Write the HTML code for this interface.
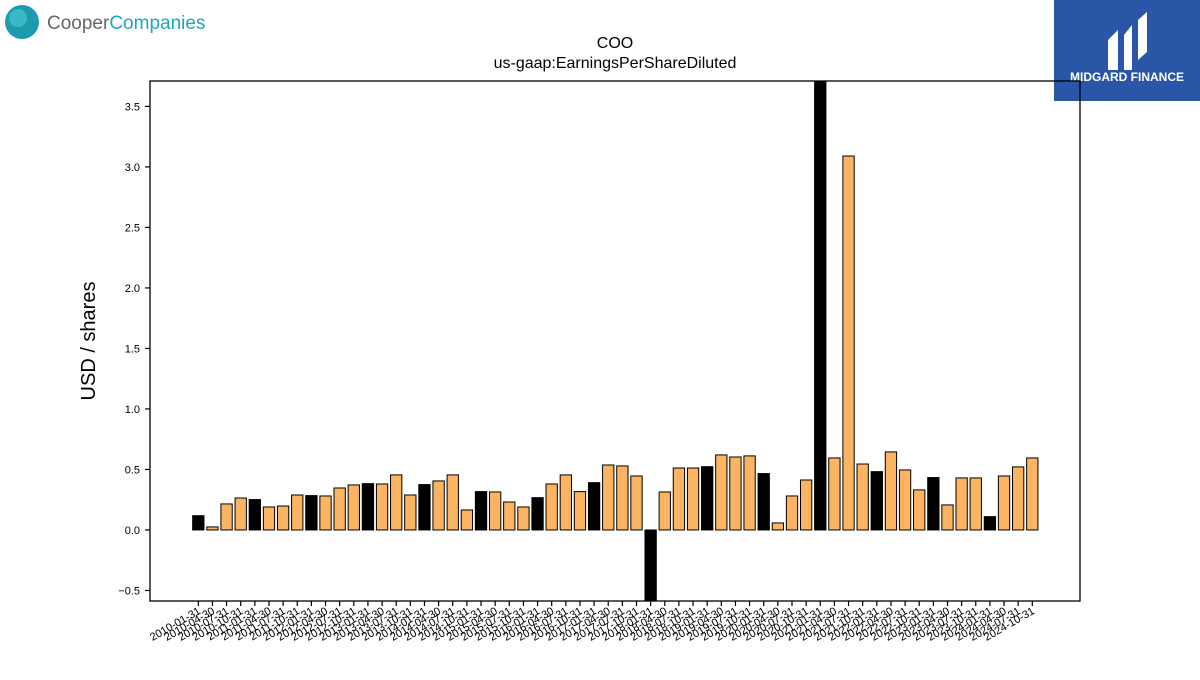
<!DOCTYPE html>
<html><head><meta charset="utf-8"><style>
body{margin:0;width:1200px;height:675px;background:#fff;overflow:hidden;font-family:"Liberation Sans",sans-serif}
</style></head><body>
<svg width="1200" height="675" xmlns="http://www.w3.org/2000/svg" id="chart">
<g>
<circle cx="22" cy="22" r="17" fill="#1a9bb0"/><circle cx="18" cy="18" r="9" fill="#4cc3cf" opacity="0.7"/>
<text x="47" y="29" font-size="19" fill="#666" font-family="Liberation Sans, sans-serif">Cooper<tspan fill="#1aa7c0">Companies</tspan></text>
</g>
<g>
<rect x="1054" y="0" width="146" height="101" fill="#2a56a8"/>
<path d="M1108 70 V40 L1118 30 V70 Z M1124 70 V35 L1132 25 V70 Z M1138 60 V20 L1147 12 V52 Z" fill="#fff"/>
<text x="1127" y="81" font-size="12" font-weight="bold" fill="#fff" text-anchor="middle">MIDGARD FINANCE</text>
</g>
<text x="615" y="48" font-size="16" text-anchor="middle">COO</text>
<text x="615" y="68" font-size="16" text-anchor="middle">us-gaap:EarningsPerShareDiluted</text>
<text transform="translate(95,341) rotate(-90)" font-size="20" text-anchor="middle">USD / shares</text>
<g id="plot"></g>
<rect x="150" y="81" width="930" height="520" fill="none" stroke="#000" stroke-width="1.3"/>
</svg>
<script>
const values=[0.118,0.025,0.215,0.264,0.251,0.19,0.198,0.289,0.284,0.281,0.347,0.372,0.383,0.38,0.455,0.289,0.375,0.405,0.455,0.165,0.317,0.314,0.231,0.19,0.267,0.38,0.455,0.317,0.391,0.537,0.529,0.446,-0.6,0.314,0.512,0.512,0.523,0.62,0.603,0.612,0.466,0.058,0.281,0.413,4.0,0.595,3.09,0.545,0.482,0.645,0.496,0.331,0.433,0.207,0.43,0.43,0.11,0.446,0.521,0.595];
const annual=[1,0,0,0,1,0,0,0,1,0,0,0,1,0,0,0,1,0,0,0,1,0,0,0,1,0,0,0,1,0,0,0,1,0,0,0,1,0,0,0,1,0,0,0,1,0,0,0,1,0,0,0,1,0,0,0,1,0,0,0];
const yTicks=[-0.5,0,0.5,1,1.5,2,2.5,3,3.5];
const startYear=2010;
const qEnds=["01-31","04-30","07-31","10-31"];
const categories=values.map((v,i)=>(startYear+Math.floor(i/4))+"-"+qEnds[i%4]);
const NS="http://www.w3.org/2000/svg";
const g=document.getElementById('plot');
const X0=150,X1=1080,Y0=81,Y1=601,yMin=-0.587,yMax=3.71;
const y=v=>Y1-(v-yMin)/(yMax-yMin)*(Y1-Y0);
const step=(1032-198)/59;
const x=i=>198.3+i*step;
const bw=step*0.8;
function mk(t,a){const e=document.createElementNS(NS,t);for(const k in a)e.setAttribute(k,a[k]);g.appendChild(e);return e;}
const clip=document.createElementNS(NS,'clipPath');clip.setAttribute('id','cp');
const cr=document.createElementNS(NS,'rect');cr.setAttribute('x',X0);cr.setAttribute('y',Y0);cr.setAttribute('width',X1-X0);cr.setAttribute('height',Y1-Y0);clip.appendChild(cr);g.appendChild(clip);
const bars=document.createElementNS(NS,'g');bars.setAttribute('clip-path','url(#cp)');g.appendChild(bars);
values.forEach((v,i)=>{
 const r=document.createElementNS(NS,'rect');
 const top=Math.min(y(v),y(0)),h=Math.abs(y(v)-y(0));
 r.setAttribute('x',x(i)-bw/2);r.setAttribute('y',top);r.setAttribute('width',bw);r.setAttribute('height',h);
 r.setAttribute('fill',annual[i]?'#000':'#fdb462');r.setAttribute('stroke','#000');r.setAttribute('stroke-width','1');
 
 
 bars.appendChild(r);
 const t=mk('line',{x1:x(i),x2:x(i),y1:Y1,y2:Y1+5,stroke:'#000','stroke-width':1.2});
 
 
 const lb=mk('text',{transform:`translate(${x(i)+3},${Y1+12}) rotate(-30)`,'font-size':11,'text-anchor':'end'});
 lb.textContent=categories[i];
 
 
});
yTicks.forEach(v=>{
 const t=mk('line',{x1:X0-5,x2:X0,y1:y(v),y2:y(v),stroke:'#000','stroke-width':1.2});
 
 
 const lb=mk('text',{x:X0-10,y:y(v)+4,'font-size':11,'text-anchor':'end'});
 lb.textContent=(v<0?'\u2212':'')+Math.abs(v).toFixed(1);
 
 
});
</script>
</body></html>
